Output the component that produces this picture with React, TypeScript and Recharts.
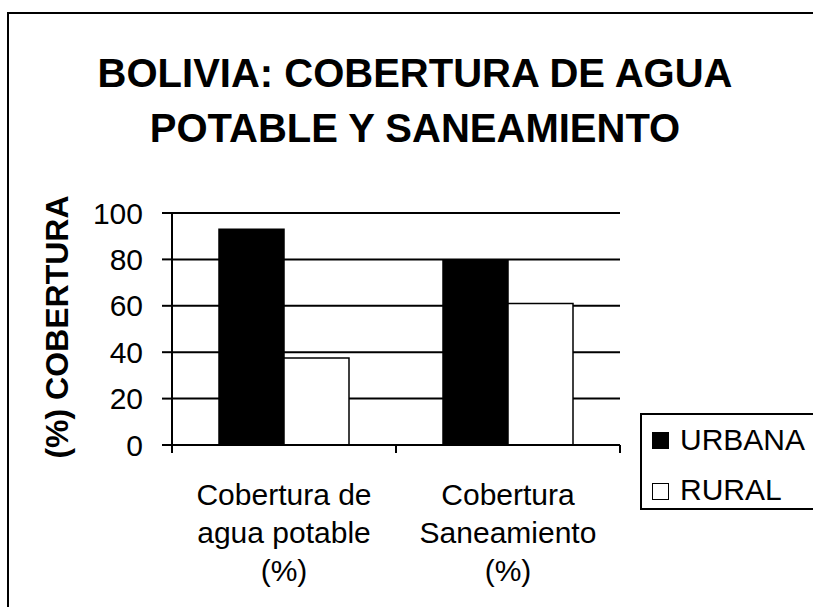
import { BarChart, Bar, XAxis, YAxis, CartesianGrid, Legend } from "recharts";

const FONT = '"Liberation Sans", Arial, sans-serif';

// categories, split into the lines they are drawn on
const categories = ["Cobertura de agua potable (%)", "Cobertura Saneamiento (%)"];
const categoryLines = [
  ["Cobertura de", "agua potable", "(%)"],
  ["Cobertura", "Saneamiento", "(%)"],
];
const seriesNames = ["URBANA", "RURAL"];
const urbana = [93, 79.5];
const rural = [37.5, 61];
const yTicks = [0, 20, 40, 60, 80, 100];
const titleLines = ["BOLIVIA: COBERTURA DE AGUA", "POTABLE Y SANEAMIENTO"];

const data = categories.map((name, i) => ({
  name,
  lines: categoryLines[i],
  URBANA: urbana[i],
  RURAL: rural[i],
}));

const W = 813;
const H = 607;
const M = { top: 213, right: 193, bottom: 0, left: 0 };
const Y_AXIS_W = 172;
const X_AXIS_H = 162;
const BAND = (W - M.left - M.right - Y_AXIS_W) / categories.length;

// category labels on 3 lines, plus the excel-style tick marks at the band edges
function CategoryTick(props: any) {
  const { x, y, payload } = props;
  const lines: string[] = data[payload.index]?.lines ?? [payload.value];
  return (
    <g>
      <line x1={x - BAND / 2} x2={x - BAND / 2} y1={y} y2={y + 8} stroke="#000" strokeWidth={2} />
      <line x1={x + BAND / 2} x2={x + BAND / 2} y1={y} y2={y + 8} stroke="#000" strokeWidth={2} />
      <text textAnchor="middle" fontSize={30} fontFamily={FONT} fill="#000">
        {lines.map((l, i) => (
          <tspan key={i} x={x} y={y + 60 + i * 38}>
            {l}
          </tspan>
        ))}
      </text>
    </g>
  );
}

function LegendBox(props: any) {
  const items = [...(props.payload || [])].sort(
    (a: any, b: any) => seriesNames.indexOf(a.value) - seriesNames.indexOf(b.value)
  );
  return (
    <div
      style={{
        position: "relative",
        width: 173,
        height: 97,
        borderLeft: "2px solid #000",
        borderTop: "2px solid #000",
        borderBottom: "2px solid #000",
        boxSizing: "border-box",
        background: "#fff",
        fontFamily: FONT,
      }}
    >
      {items.map((it: any, i: number) => {
        const fill = it.payload?.fill ?? it.color;
        return (
          <div key={it.value}>
            <div
              style={{
                position: "absolute",
                left: 10,
                top: 17 + i * 51,
                width: 17,
                height: 17,
                background: fill,
                border: "1.5px solid #000",
                boxSizing: "border-box",
              }}
            />
            <div
              style={{
                position: "absolute",
                left: 38,
                top: 10 + i * 50,
                fontSize: 30,
                lineHeight: "30px",
                color: "#000",
                whiteSpace: "nowrap",
              }}
            >
              {it.value}
            </div>
          </div>
        );
      })}
    </div>
  );
}

export default function App() {
  return (
    <div
      style={{
        position: "absolute",
        left: 0,
        top: 0,
        width: W,
        height: H,
        overflow: "hidden",
        background: "#fff",
        fontFamily: FONT,
      }}
    >
      {/* outer chart frame, its right and bottom edges fall outside the picture */}
      <div
        style={{
          position: "absolute",
          left: 7,
          top: 12,
          width: W - 7,
          height: H - 12,
          borderLeft: "2px solid #000",
          borderTop: "2px solid #000",
          boxSizing: "border-box",
        }}
      />
      <div
        style={{
          position: "absolute",
          left: 0,
          top: 46,
          width: 830,
          textAlign: "center",
          fontSize: 40,
          fontWeight: "bold",
          lineHeight: "55px",
          color: "#000",
        }}
      >
        {titleLines.map((t) => (
          <div key={t}>{t}</div>
        ))}
      </div>
      <div style={{ position: "absolute", left: 0, top: 0 }}>
        <BarChart
          width={W}
          height={H}
          data={data}
          margin={M}
          barCategoryGap={47}
          barGap={0}
        >
          <CartesianGrid vertical={false} stroke="#000" strokeWidth={2} />
          <XAxis
            dataKey="name"
            height={X_AXIS_H}
            axisLine={{ stroke: "#000", strokeWidth: 2 }}
            tickLine={false}
            tickSize={0}
            tickMargin={0}
            tick={<CategoryTick />}
            interval={0}
          />
          <YAxis
            width={Y_AXIS_W}
            domain={[0, 100]}
            ticks={yTicks}
            interval={0}
            axisLine={{ stroke: "#000", strokeWidth: 2 }}
            tickLine={{ stroke: "#000", strokeWidth: 2 }}
            tickSize={10}
            tickMargin={19}
            tick={{ fill: "#000", fontSize: 30, fontFamily: FONT }}
            label={{
              content: (p: any) => {
                const vb = p.viewBox || {};
                const cy = (vb.y ?? 213) + (vb.height ?? 232) / 2 - 2;
                return (
                  <text
                    x={57}
                    y={cy}
                    transform={`rotate(-90, 57, ${cy})`}
                    textAnchor="middle"
                    dominantBaseline="central"
                    fontSize={32}
                    fontWeight="bold"
                    fontFamily={FONT}
                    fill="#000"
                  >
                    (%) COBERTURA
                  </text>
                );
              },
            }}
          />
          <Legend
            layout="vertical"
            align="center"
            verticalAlign="middle"
            content={<LegendBox />}
            wrapperStyle={{ left: 640, top: 413, width: 173 }}
          />
          <Bar
            dataKey="URBANA"
            fill="#000"
            stroke="#000"
            strokeWidth={1.5}
            legendType="square"
            isAnimationActive={false}
          />
          <Bar
            dataKey="RURAL"
            fill="#fff"
            stroke="#000"
            strokeWidth={1.5}
            legendType="square"
            isAnimationActive={false}
          />
        </BarChart>
      </div>
    </div>
  );
}
